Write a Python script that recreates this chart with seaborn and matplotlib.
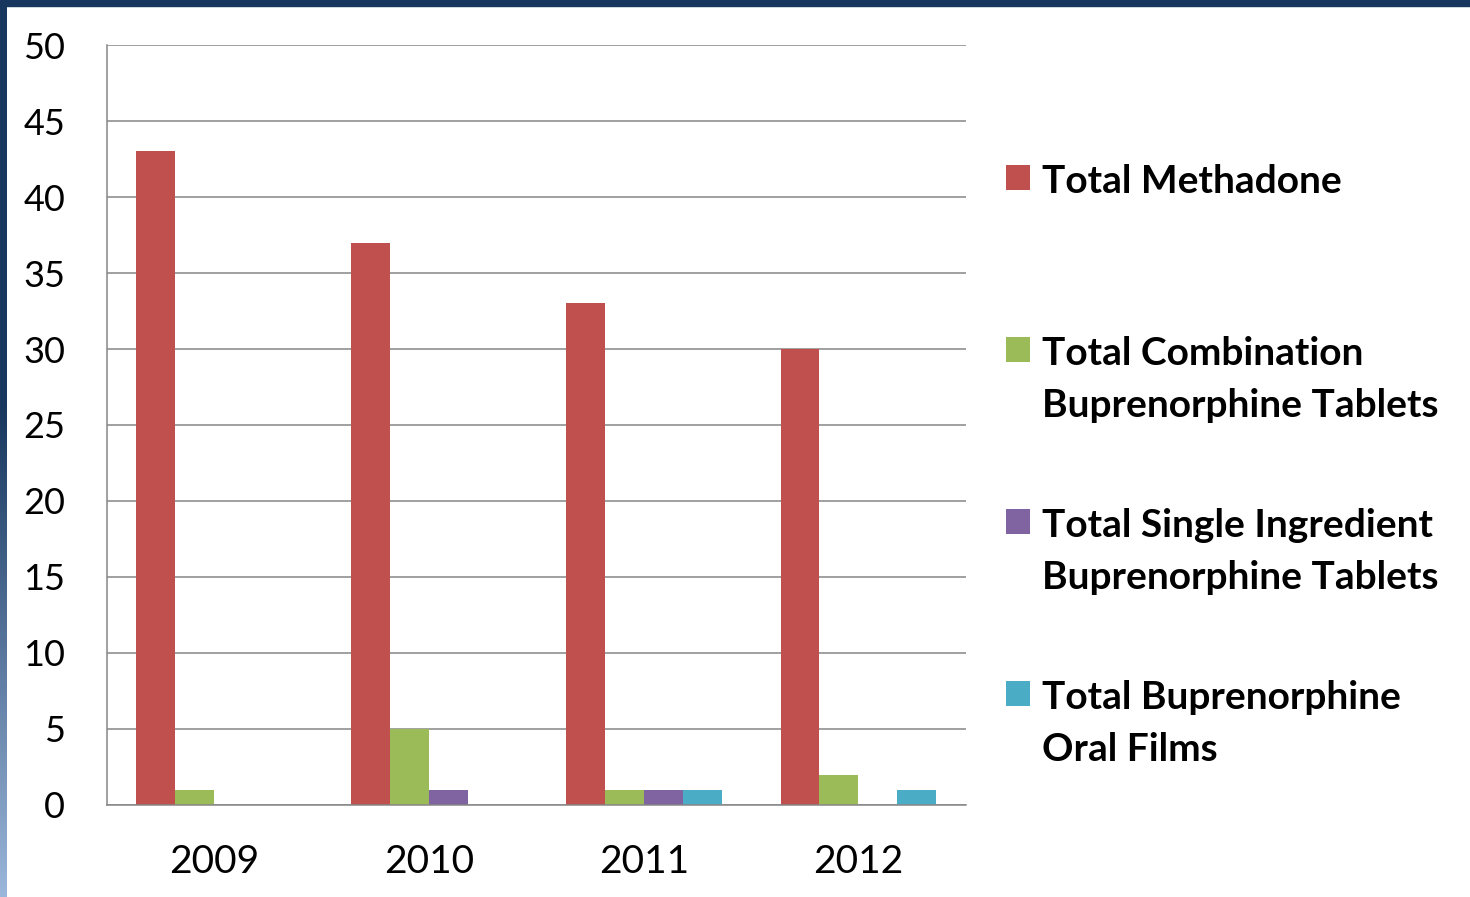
import numpy as np
import pandas as pd
import seaborn as sns
import matplotlib.pyplot as plt
from matplotlib.patches import Patch, Rectangle
from matplotlib.legend_handler import HandlerPatch
from matplotlib.colors import LinearSegmentedColormap

years = ['2009', '2010', '2011', '2012']
series = ['Total Methadone',
          'Total Combination\nBuprenorphine Tablets',
          'Total Single Ingredient\nBuprenorphine Tablets',
          'Total Buprenorphine\nOral Films']
methadone = [43, 37, 33, 30]
combination = [1, 5, 1, 2]
single = [0, 1, 1, 0]
films = [0, 0, 1, 1]
colors = ['#C0504D', '#9BBB59', '#8064A2', '#4BACC6']

df = pd.DataFrame({
    'year': years * 4,
    'series': np.repeat(series, 4),
    'value': methadone + combination + single + films,
})

sns.set_theme(style='white')
plt.rcParams['font.family'] = ['Lato', 'DejaVu Sans']
plt.rcParams['text.color'] = 'black'

fig, ax = plt.subplots(figsize=(14.7, 8.97), dpi=100)
fig.subplots_adjust(left=0.0728, right=0.657, bottom=0.1026, top=0.9498)

sns.barplot(data=df, x='year', y='value', hue='series', hue_order=series,
            palette=colors, saturation=1, width=0.726, linewidth=0,
            legend=False, ax=ax)

ax.set_ylim(0, 50)
ax.set_yticks(range(0, 51, 5))
ax.set_xlabel('')
ax.set_ylabel('')
ax.yaxis.grid(True, color='#868686', lw=1.1)
ax.set_axisbelow(True)
for s in ['top', 'right']:
    ax.spines[s].set_visible(False)
for s in ['left', 'bottom']:
    ax.spines[s].set_color('#868686')
    ax.spines[s].set_linewidth(1.1)
ax.tick_params(axis='y', length=0, pad=30, labelsize=26, labelcolor='black')
ax.tick_params(axis='x', length=0, pad=28, labelsize=28, labelcolor='black')

# legend: every entry gets two lines so the slots are even,
# and the swatch sits next to the first line
def top_line(legend, orig_handle, xdescent, ydescent, width, height, fontsize):
    return Rectangle((-xdescent, -ydescent + 22), width, height)

handles = [Patch(facecolor=c, edgecolor='none') for c in colors]
labels = [s if '\n' in s else s + '\n' for s in series]
hmap = {h: HandlerPatch(patch_func=top_line) for h in handles}
leg = fig.legend(handles, labels, handler_map=hmap, loc='upper left',
                 bbox_to_anchor=(1006 / 1470, 1 - 164 / 897), frameon=False,
                 borderpad=0, borderaxespad=0, handlelength=0.62,
                 handleheight=0.62, handletextpad=0.31, labelspacing=2.2,
                 prop={'size': 28, 'weight': 'bold'})
for t in leg.get_texts():
    t.set_linespacing(1.57)
    t.set_color('black')

# slide frame: dark band on top, shaded band on the left
fig.add_artist(Rectangle((0, 1 - 6 / 897), 1, 6 / 897, transform=fig.transFigure,
                         color='#17375E', zorder=10))
bax = fig.add_axes([0, 0, 6 / 1470, 1 - 6 / 897])
cmap = LinearSegmentedColormap.from_list('edge', [(0, '#17375E'), (0.45, '#17375E'), (1, '#9AB6DA')])
bax.imshow(np.linspace(0, 1, 256).reshape(-1, 1), aspect='auto', cmap=cmap)
bax.axis('off')

fig.savefig('out.png', dpi=100)
